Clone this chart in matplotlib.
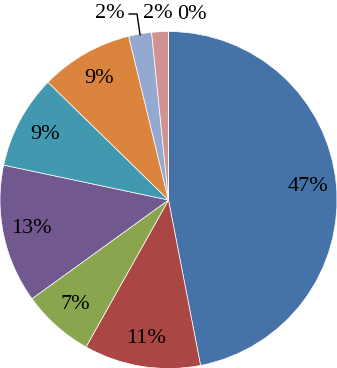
import numpy as np
import matplotlib
matplotlib.use("Agg")
import matplotlib.pyplot as plt

categories = ["A", "B", "C", "D", "E", "F", "G", "H", "I"]
values = [47.0, 11.2, 6.9, 13.3, 9.0, 8.9, 2.2, 1.6, 0.0]
labels = ["47%", "11%", "7%", "13%", "9%", "9%", "2%", "2%", "0%"]
colors = ["#4572A7", "#AA4643", "#89A54E", "#71588F", "#4198AF",
          "#DB843D", "#93A9CF", "#D19392", "#B9CD96"]

W, H = 337, 368
fig = plt.figure(figsize=(W / 100, H / 100), dpi=100)
ax = fig.add_axes([0, 0, 1, 1])
R = 168.5
cy = 168
wedges, _ = ax.pie(values, colors=colors, startangle=90, counterclock=False,
                   radius=1.0, center=(0, 0),
                   wedgeprops=dict(edgecolor="white", linewidth=0.5))
ax.set_aspect("auto")
ax.set_xlim(-1, 1)
ax.set_ylim(-cy / R, (H - cy) / R)
ax.axis("off")

font = dict(family=["Liberation Serif", "DejaVu Serif"], fontsize=16, color="black")

for i, w in enumerate(wedges[:6]):
    ang = np.deg2rad((w.theta1 + w.theta2) / 2)
    r = 0.83
    ax.text(r * np.cos(ang), r * np.sin(ang), labels[i], ha="center", va="center", **font)

# small slices labelled outside at top
ty = 1.104
ax.text(-0.347, ty, labels[6], ha="center", va="center", **font)
ax.text(-0.062, ty, labels[7], ha="center", va="center", **font)
ax.text(0.139, ty - 0.006, labels[8], ha="center", va="center", **font)

w = wedges[6]
ang = np.deg2rad((w.theta1 + w.theta2) / 2)
ex, ey = np.cos(ang), np.sin(ang)
ax.plot([-0.234, -0.187, ex], [ty, ty, ey * 0.995], color="black", lw=1.0)

fig.savefig("out.png", dpi=100)
